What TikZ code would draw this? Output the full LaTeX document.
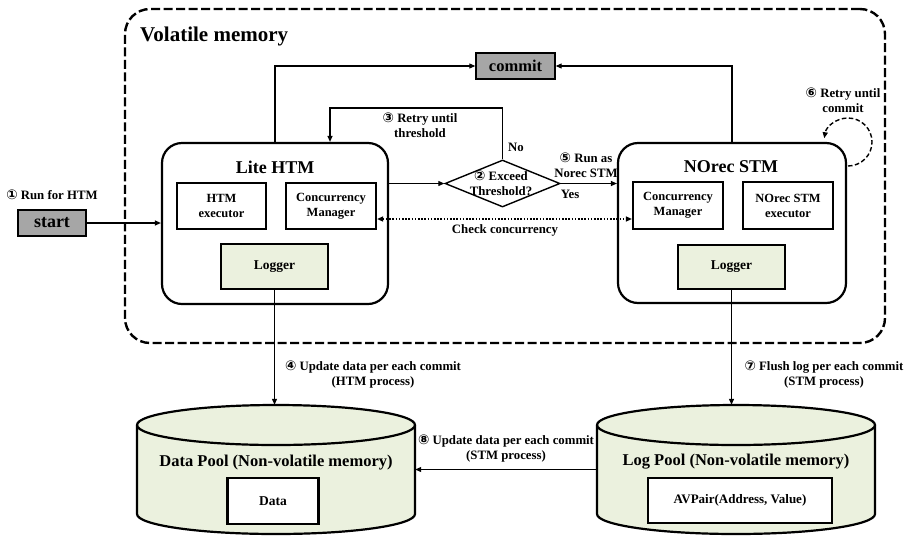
\documentclass[tikz,border=0pt]{standalone}
\usepackage{fontspec}
\setmainfont{Liberation Serif}
\newfontfamily\circfont{DejaVu Sans}[Scale=1.05]
\usetikzlibrary{arrows.meta,shapes.geometric}
\definecolor{poolgreen}{HTML}{EBF1DE}
\definecolor{boxgray}{HTML}{A6A6A6}
\newcommand\cn[1]{{\circfont #1}}
\tikzset{
  lbl/.style={font=\fontsize{12.8}{15}\selectfont\bfseries, align=center, inner sep=0},
  ttl/.style={font=\fontsize{18}{20}\selectfont\bfseries, inner sep=0},
  box/.style={draw, line width=2.2pt, fill=white, inner sep=0, align=center,
              font=\fontsize{12.5}{15}\selectfont\bfseries},
  grn/.style={box, fill=poolgreen, font=\fontsize{13.5}{15}\selectfont\bfseries},
  engine/.style={draw, line width=2.2pt, rounded corners=20pt, inner sep=0, fill=white},
  graybox/.style={draw, line width=1.4pt, fill=boxgray, inner sep=0},
  arr/.style={line width=1.1pt, -{Triangle[length=6pt,width=5pt]}},
  dotarr/.style={line width=1.3pt, dash pattern=on 1.6pt off 1.6pt,
                 {Triangle[length=6pt,width=5pt]}-{Triangle[length=6pt,width=5pt]}},
  loop/.style={line width=1.4pt, dash pattern=on 4.5pt off 2.5pt, -{Triangle[length=6pt,width=5pt]}},
  cyl/.style={draw, line width=2.2pt, fill=poolgreen},
  anchorbox/.style={draw=none, inner sep=0}
}
\begin{document}
\begin{tikzpicture}[x=1pt,y=-1pt]
\useasboundingbox (0,0) rectangle (909,536);
\fill[white] (0,0) rectangle (909,536);

% volatile memory region
\node[draw, line width=2.4pt, dash pattern=on 9pt off 3.5pt, rounded corners=25pt,
      minimum width=760pt, minimum height=334pt, inner sep=0] (vol) at (505,176) {};
\node[ttl, anchor=west, font=\fontsize{21}{24}\selectfont\bfseries] (voltitle) at (140,36) {Volatile memory};

% pools (cylinders)
\draw[cyl] (137,425) -- (137,514) arc[start angle=180, end angle=360, x radius=139pt, y radius=20pt]
  -- (415,425) arc[start angle=0, end angle=180, x radius=139pt, y radius=20pt] -- cycle;
\draw[line width=2.2pt] (137,425) arc[start angle=180, end angle=360, x radius=139pt, y radius=20pt];
\draw[cyl] (597,425) -- (597,514) arc[start angle=180, end angle=360, x radius=139pt, y radius=20pt]
  -- (875,425) arc[start angle=0, end angle=180, x radius=139pt, y radius=20pt] -- cycle;
\draw[line width=2.2pt] (597,425) arc[start angle=180, end angle=360, x radius=139pt, y radius=20pt];
\node[anchorbox, minimum width=278pt, minimum height=129pt] (dpool) at (276,469.5) {};
\node[anchorbox, minimum width=278pt, minimum height=129pt] (lpool) at (736,469.5) {};
\node[font=\fontsize{16.5}{18}\selectfont\bfseries, inner sep=0] (dptitle) at (276,463) {Data Pool (Non-volatile memory)};
\node[font=\fontsize{16.5}{18}\selectfont\bfseries, inner sep=0] (lptitle) at (736,462) {Log Pool (Non-volatile memory)};
\node[box, font=\fontsize{13.5}{15}\selectfont\bfseries, minimum width=91pt, minimum height=46pt] (databox) at (273,501) {Data};
\node[box, font=\fontsize{13}{15}\selectfont\bfseries, minimum width=184pt, minimum height=45pt] (avbox) at (740,500.5) {AVPair(Address, Value)};

% engines
\node[engine, minimum width=226pt, minimum height=161pt] (lite) at (275,223.5) {};
\node[engine, minimum width=228pt, minimum height=160pt] (norec) at (732,223) {};
\node[ttl] (litetitle) at (275,167) {Lite HTM};
\node[ttl] (norectitle) at (731,167) {NOrec STM};
\node[box, minimum width=89pt, minimum height=46pt] (htmexec) at (221.5,206) {HTM\\executor};
\node[box, minimum width=90pt, minimum height=46pt] (cmL) at (331,206) {Concurrency\\Manager};
\node[grn, minimum width=107pt, minimum height=45pt] (logL) at (274.5,266.5) {Logger};
\node[box, minimum width=90pt, minimum height=47pt] (cmR) at (678,205.5) {Concurrency\\Manager};
\node[box, minimum width=90pt, minimum height=47pt] (nexec) at (788,205.5) {NOrec STM\\executor};
\node[grn, minimum width=107pt, minimum height=44pt] (logR) at (731.5,267) {Logger};

% commit, start, decision
\node[graybox, minimum width=79pt, minimum height=26pt, font=\fontsize{16.5}{18}\selectfont\bfseries] (commit) at (515.5,66) {commit};
\node[graybox, minimum width=68pt, minimum height=26pt, font=\fontsize{18}{20}\selectfont\bfseries] (start) at (52,223) {start};
\node[diamond, draw, line width=1.4pt, minimum width=115pt, minimum height=47pt, inner sep=0, aspect=2.45] (dia) at (502.5,183.5) {};
\node[lbl] (diatext) at (501,183) {\cn{②} Exceed\\Threshold?};

% connectors
\draw[arr] (start) -- (start -| lite.west);
\draw[arr] (dia.west -| lite.east) -- (dia.west);
\draw[arr] (dia.east) -- (dia.east -| norec.west);
\coordinate (r3) at (330,108);
\draw[arr] (dia.north) |- (r3) -- (r3 |- lite.north);
\draw[arr] (lite.north) |- (commit.west);
\draw[arr] (norec.north) |- (commit.east);
\draw[dotarr] ([yshift=-13pt]cmL.east) -- ([yshift=-13pt]cmL.east -| cmR.west);
\draw[arr] (logL.south) -- (logL.south |- dpool.north);
\draw[arr] (logR.south) -- (logR.south |- lpool.north);
\draw[arr] (lpool.west) -- (dpool.east);
\coordinate (loopc) at (848,142);
\draw[loop] ([yshift=-24pt]loopc) arc[start angle=-90, end angle=171, radius=24pt];

% labels
\node[lbl] (lab1) at (52,195) {\cn{①} Run for HTM};
\node[lbl] (lab3) at (420,125) {\cn{③} Retry until\\threshold};
\node[lbl] (labno) at (516,147) {No};
\node[lbl] (lab5) at (586,165) {\cn{⑤} Run as\\Norec STM};
\node[lbl] (labyes) at (570,194) {Yes};
\node[lbl] (labcc) at (505,230) {Check concurrency};
\node[lbl] (lab6) at (843,100) {\cn{⑥} Retry until\\commit};
\node[lbl] (lab4) at (373,375) {\cn{④} Update data per each commit\\(HTM process)};
\node[lbl] (lab7) at (824,375) {\cn{⑦} Flush log per each commit\\(STM process)};
\node[lbl] (lab8) at (506,449) {\cn{⑧} Update data per each commit\\(STM process)};
\end{tikzpicture}
\end{document}
